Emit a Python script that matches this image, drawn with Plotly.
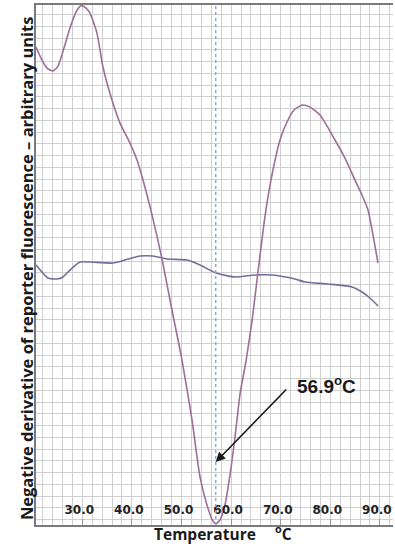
import plotly.graph_objects as go

# Temperature (°C) and negative derivative of reporter fluorescence (arbitrary units)
temp_a = [20.67, 21.87, 22.88, 24.09, 25.10, 26.31, 27.52, 28.73, 29.74, 30.75, 31.55,
          32.96, 34.17, 35.99, 37.60, 39.62, 41.03, 42.24, 44.07, 46.07, 48.08, 50.10, 52.12,
          53.73, 55.14, 56.15, 56.90, 57.76, 58.77, 59.78, 60.79, 61.83, 63.04, 64.25,
          65.46, 66.87, 68.04, 69.86, 71.27, 72.68, 74.29, 75.91, 77.93, 80.95, 82.96,
          84.98, 86.39, 87.60, 88.61, 89.62]
deriv_a = [40.68, 39.57, 38.89, 38.64, 39.06, 40.60, 42.30, 43.66, 44.20, 44.00, 43.57,
           41.87, 38.98, 36.17, 34.21, 32.51, 31.06, 29.36, 26.38, 22.64, 18.30, 14.04, 8.94,
           4.09, 1.70, 0.51, 0.10, 0.43, 1.70, 4.26, 7.49, 11.23, 14.04, 17.45,
           21.70, 26.38, 29.36, 32.77, 34.30, 35.32, 35.74, 35.57, 34.89, 32.77, 31.23,
           29.36, 28.09, 26.81, 24.68, 22.30]

temp_b = [20.67, 21.87, 23.08, 24.90, 26.11, 27.52, 29.54, 31.55, 36.19, 39.21, 41.63,
          44.25, 47.08, 51.11, 53.73, 56.96, 60.79, 64.83, 68.25, 72.89, 74.90, 79.54,
          84.38, 86.39, 88.00, 89.62]
deriv_b = [22.13, 21.53, 21.02, 20.94, 21.11, 21.70, 22.38, 22.38, 22.30, 22.64, 22.89,
           22.89, 22.64, 22.55, 22.13, 21.45, 21.11, 21.28, 21.28, 20.94, 20.68, 20.51,
           20.26, 19.83, 19.32, 18.64]

tm_value = 56.9
tm_label = "56.9<sup>o</sup>C"
x_ticks = [30, 40, 50, 60, 70, 80, 90]
x_tick_labels = ["30.0", "40.0", "50.0", "60.0", "70.0", "80.0", "90.0"]
x_range = [20.67, 92.64]
y_range = [0, 44.26]

fig = go.Figure()
fig.add_trace(go.Scatter(x=temp_b, y=deriv_b, mode="lines",
                         line=dict(color="#6f6f9c", width=1.6, shape="spline", smoothing=0.6),
                         hoverinfo="skip", showlegend=False))
fig.add_trace(go.Scatter(x=temp_a, y=deriv_a, mode="lines",
                         line=dict(color="#9d6f97", width=1.6, shape="spline", smoothing=0.6),
                         hoverinfo="skip", showlegend=False))

fig.add_shape(type="line", xref="x", yref="paper", x0=tm_value, x1=tm_value, y0=0, y1=1,
              line=dict(color="#8fa8c8", width=1.5, dash="dot"), layer="above")

fig.update_layout(
    width=395, height=546,
    margin=dict(l=36, r=2, t=5, b=21),
    paper_bgcolor="white", plot_bgcolor="white",
    showlegend=False,
    xaxis=dict(range=x_range, tickmode="array", tickvals=x_ticks, ticktext=x_tick_labels,
               ticks="inside", ticklen=6, tickcolor="#999999", tickwidth=1,
               ticklabelposition="inside", ticklabeloverflow="allow", ticklabelshift=-3,
               ticklabelstandoff=2,
               tickfont=dict(family="DejaVu Sans", size=12, color="#222222", weight="bold"),
               showgrid=True, gridcolor="#cfcfcf", gridwidth=1,
               minor=dict(dtick=2, tick0=30, showgrid=True, gridcolor="#cfcfcf", gridwidth=1),
               showline=True, linecolor="#7a7a7a", linewidth=2, mirror=True,
               zeroline=False, fixedrange=True),
    yaxis=dict(range=y_range, tick0=0.45, dtick=1, showticklabels=False, ticks="",
               showgrid=True, gridcolor="#cfcfcf", gridwidth=1,
               showline=True, linecolor="#7a7a7a", linewidth=2, mirror=False,
               zeroline=False, fixedrange=True),
)

# arrow to the melting temperature
fig.add_annotation(x=tm_value, y=5.36, xref="x", yref="y", text="", showarrow=True,
                   ax=72, ay=-74, arrowhead=2, arrowsize=1.2, arrowwidth=1.6,
                   arrowcolor="#1a1a1a", standoff=0, startstandoff=0)
fig.add_annotation(x=72.9, y=11.9, xref="x", yref="y", text=tm_label, showarrow=False,
                   xanchor="left", yanchor="middle",
                   font=dict(family="Liberation Sans", size=19, color="#1a1a1a", weight="bold"))

# axis titles
fig.add_annotation(x=0.472, y=-0.0404, xref="paper", yref="paper", text="Temperature",
                   showarrow=False, xanchor="center", yanchor="bottom", borderpad=0,
                   font=dict(family="Open Sans", size=15.5, color="#1a1a1a", weight="bold"))
fig.add_annotation(x=0.692, y=-0.0404, xref="paper", yref="paper", text="<sup>o</sup>C",
                   showarrow=False, xanchor="center", yanchor="bottom", borderpad=0,
                   font=dict(family="Open Sans", size=15.5, color="#1a1a1a", weight="bold"))
fig.add_annotation(x=-0.028, y=0.494, xref="paper", yref="paper",
                   text="Negative derivative of reporter fluorescence \u2013 arbitrary units",
                   textangle=-90, showarrow=False, xanchor="center", yanchor="middle",
                   font=dict(family="Open Sans", size=16.5, color="#1a1a1a", weight="bold"))

fig.write_html("out.html", config={"displayModeBar": False},
               post_script="document.body.style.margin='0';document.body.style.overflow='hidden';")
